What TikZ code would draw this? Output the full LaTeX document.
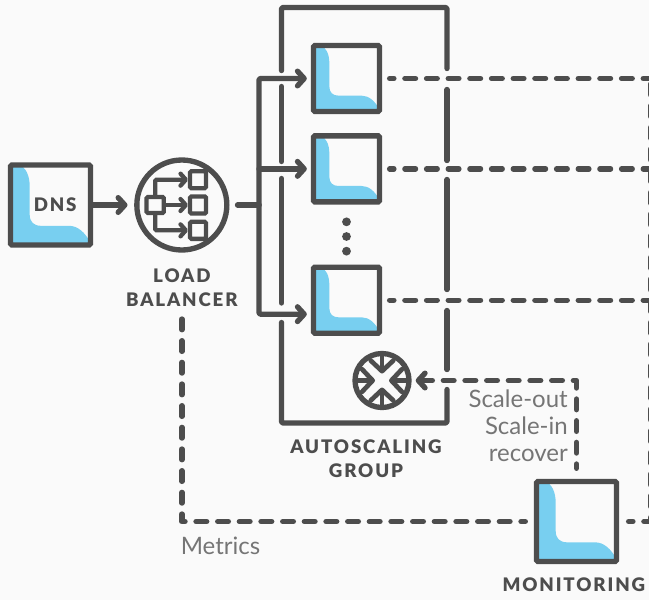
\documentclass[tikz,border=0pt]{standalone}
\usepackage{fontspec}
\setmainfont{Lato}
\newfontfamily\tagfont[LetterSpace=10]{Lato Black}
\usetikzlibrary{positioning, arrows.meta}
\definecolor{darkline}{HTML}{4D4D4D}
\definecolor{softtext}{HTML}{757575}
\definecolor{iconblue}{HTML}{78CFF0}
\definecolor{paper}{HTML}{FAFAFA}

\begin{document}
\begin{tikzpicture}[x=0.75pt, y=-0.75pt]
		\tikzset{
			>={Straight Barb[round, length=5pt, width=11pt]},
			serverbox/.style={draw=darkline, line width=4pt, rounded corners=1pt, minimum size=#1, inner sep=0pt, fill=paper,
				path picture={\fill[iconblue, sharp corners, x=#1/100, y=-#1/100]
					(-50,-50) -- (-40,-50) .. controls (-31,-48) and (-26,-37) .. (-26,-23) -- (-26,12)
					.. controls (-26,21) and (-21,26) .. (-12,26) -- (23,26)
					.. controls (34,26) and (43,34) .. (50,47) -- (50,50) -- (-50,50) -- cycle;}},
			roundicon/.style={draw=darkline, line width=4pt, circle, minimum size=#1, inner sep=0pt, fill=paper},
			smallbox/.style={draw=darkline, line width=3.2pt, rounded corners=1pt, minimum width=12pt, minimum height=12.8pt, inner sep=0pt, fill=paper},
			dotnode/.style={fill=darkline, circle, minimum size=6.6pt, inner sep=0pt},
			solidline/.style={draw=darkline, line width=4pt, line cap=round, line join=round},
			thinline/.style={draw=darkline, line width=3.2pt, line cap=round, rounded corners=1pt},
			dashline/.style={solidline, dash pattern=on 8pt off 8.25pt, dash phase=4.8pt},
			frameline/.style={solidline, rounded corners=1pt},
			tagtext/.style={font=\tagfont\fontsize{14}{18}\selectfont, text=darkline, align=center, inner sep=0pt},
			softlabel/.style={font=\fontsize{18}{20.3}\selectfont, text=softtext, align=right, inner sep=0pt}
		}
		
		\clip (0,0) rectangle (649,600);
		\fill[paper] (0,0) rectangle (649,600);
		
		% Autoscaling group frame
		\draw[frameline] (281.5,70.5) -- (281.5,7.5) -- (447,7.5) -- (447,68.5);
		\draw[frameline] (281.5,322.5) -- (281.5,423) -- (447,423) -- (447,389.5);
		\foreach \ya/\yb in {86.5/161.5, 178.5/303}
			\draw[frameline] (281.5,\ya) -- (281.5,\yb);
		\foreach \ya/\yb in {89.5/160.5, 179.5/289.5, 310.5/369.5}
			\draw[frameline] (447,\ya) -- (447,\yb);
		
		% DNS and load balancer
		\node[serverbox=60pt] (dns) at (50.5,205) {};
		\node[tagtext, xshift=3.5pt] (dnstext) at (dns) {DNS};
		\node[roundicon=67.5pt, right=30.75pt of dns] (lb) {};
		\node[smallbox, xshift=-20pt, minimum width=13pt, minimum height=12pt] (lbin) at (lb) {};
		\node[smallbox, right=16.5pt of lbin] (lbout2) {};
		\node[smallbox, above=3pt of lbout2] (lbout1) {};
		\node[smallbox, below=3pt of lbout2] (lbout3) {};
		\node[tagtext, below=11.5pt of lb] (lbtext) {LOAD\\BALANCER};
		
		% Servers
		\node[serverbox=49.5pt] (srv1) at (346.5,78.5) {};
		\node[serverbox=49.5pt, below=14.25pt of srv1] (srv2) {};
		\node[dotnode, below=9.5pt of srv2] (dot1) {};
		\node[dotnode, below=4pt of dot1] (dot2) {};
		\node[dotnode, below=4pt of dot2] (dot3) {};
		\node[serverbox=49.5pt, below=45pt of srv2] (srv3) {};
		\node[roundicon=40.5pt] (scaler) at (382,380.5) {};
		\node[tagtext] (asgtext) at (366,458.5) {AUTOSCALING\\GROUP};
		
		% Monitoring
		\node[serverbox=60pt] (mon) at (576.5,521.5) {};
		\node[tagtext, below=10pt of mon, xshift=-2pt] (montext) {MONITORING};
		\coordinate (rail) at (650.5,0);
		\coordinate (bus) at (259,0);
		
		% Annotations
		\node[softlabel, anchor=east] (scaletext) at (568,426) {Scale-out\\Scale-in\\recover};
		\node[softlabel, anchor=west] (metricstext) at (180.5,546) {Metrics};
		
		% Draw arrows between nodes
		\draw[solidline, ->, shorten >=5pt] (dns) -- (lb);
		\draw[solidline, shorten <=6pt] (lb.east) -- (bus |- lb);
		\draw[solidline, ->, rounded corners=1pt, shorten >=3pt] (bus |- lb) |- (srv1.west);
		\draw[solidline, ->, shorten >=3pt] (bus |- srv2) -- (srv2.west);
		\draw[solidline, ->, rounded corners=1pt, shorten >=3pt] (bus |- lb) |- ([yshift=-10.5pt]srv3.west);
		
		\draw[thinline, -{Straight Barb[round, length=4pt, width=9pt]}] (lbin) -- (lbout2);
		\draw[thinline, -{Straight Barb[round, length=4pt, width=9pt]}] (lbin.north) |- (lbout1);
		\draw[thinline, -{Straight Barb[round, length=4pt, width=9pt]}] (lbin.south) |- (lbout3);
		
		\foreach \a in {0,90,180,270}
			\draw[thinline, line width=3.5pt, -{Straight Barb[round, length=8pt, width=17pt]}] ([shift={(\a:26)}]scaler.center) -- ([shift={(\a:7)}]scaler.center);
		
		% Dashed links
		\draw[dashline, shorten <=5.6pt] (srv1.east) -- (rail |- srv1);
		\draw[dashline, shorten <=5.6pt] (srv2.east) -- (rail |- srv2);
		\draw[dashline, shorten <=5.6pt] (srv3.east) -- (rail |- srv3);
		\draw[dashline, shorten <=7.1pt] (mon.east) -| (rail |- srv1);
		\draw[dashline, shorten <=6.4pt, shorten >=1.8pt] (mon.west) -| (lbtext.south);
		\draw[dashline, ->, shorten <=7.9pt, shorten >=3pt] (mon.north) |- (scaler.east);
	\end{tikzpicture}
\end{document}
